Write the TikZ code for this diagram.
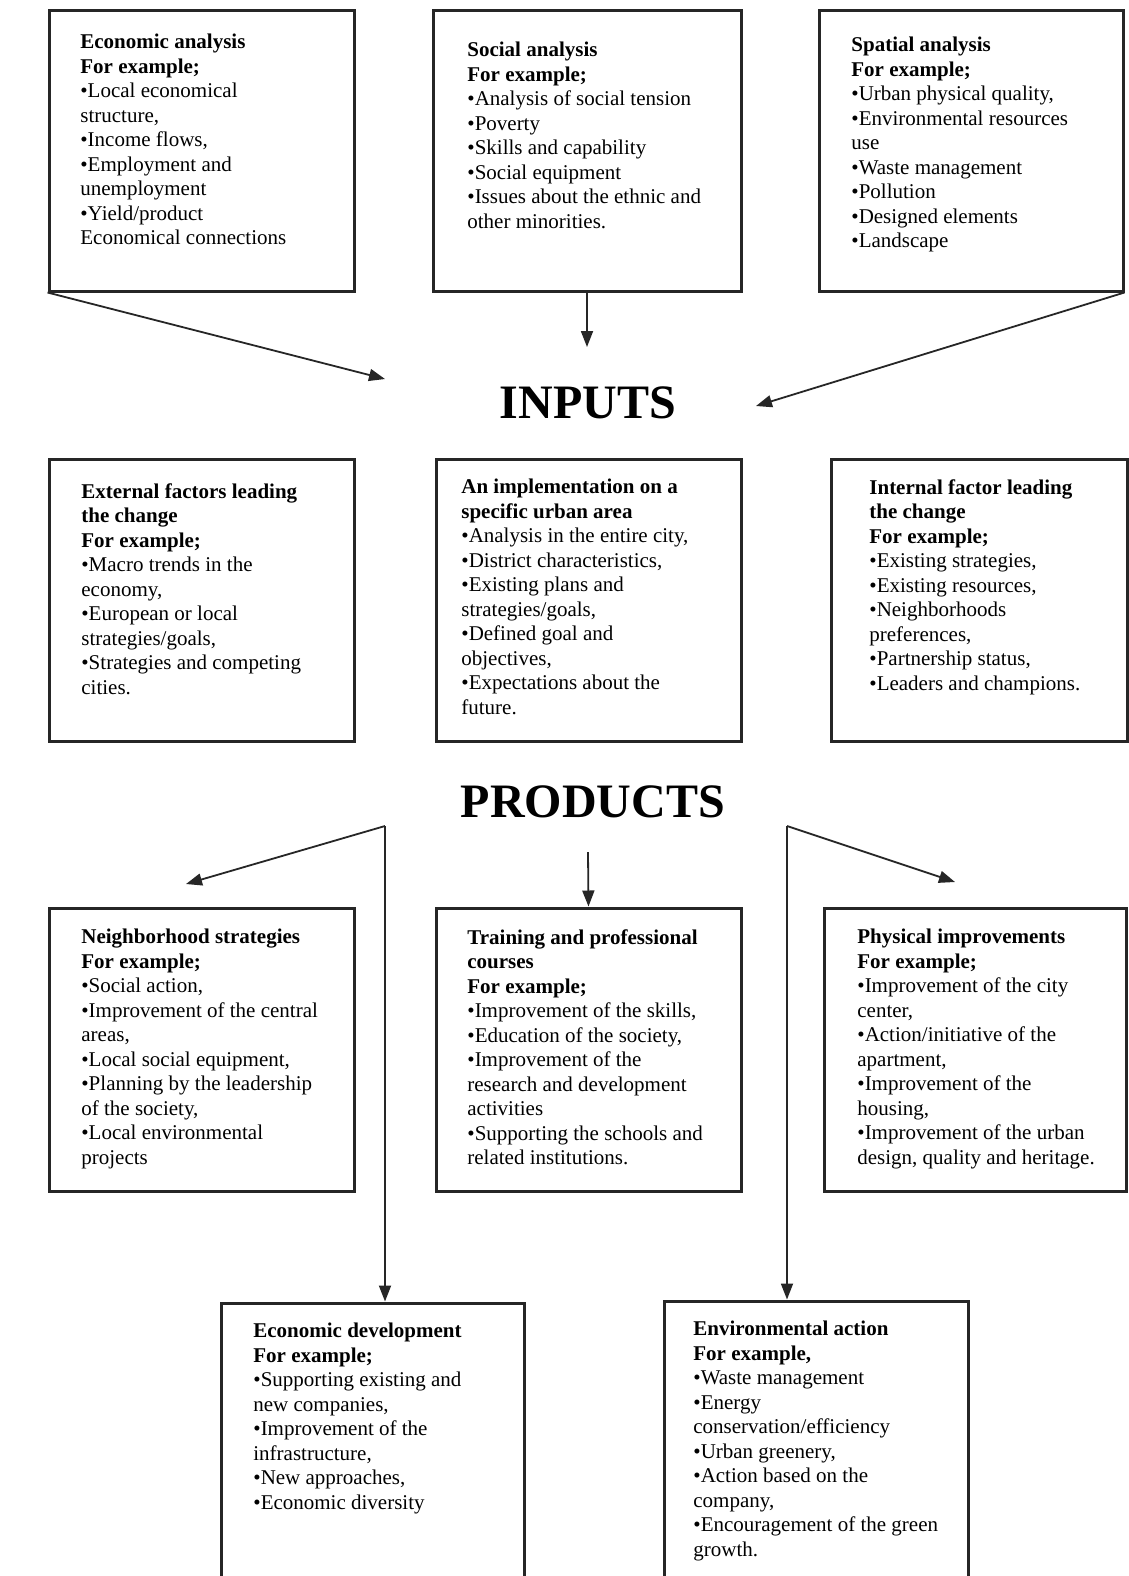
\documentclass[tikz,border=0pt]{standalone}
\usepackage{fontspec}
\setmainfont{Liberation Serif}
\usetikzlibrary{arrows.meta,positioning,fit}

\begin{document}
\begin{tikzpicture}[
  x=0.5pt, y=-0.5pt,
  box/.style={draw=black!85, line width=1.5pt, inner sep=0pt},
  txt/.style={anchor=north west, align=left, inner sep=0pt, font=\fontsize{10.5}{12.25}\selectfont},
  ttl/.style={font=\fontsize{24}{28}\selectfont\bfseries},
  arr/.style={-{Triangle[length=8pt, width=6pt]}, line width=0.9pt, draw=black!85}
  ]
  \useasboundingbox (0,0) rectangle (1129,1576);
  \clip (0,0) rectangle (1129,1576);

  % analysis boxes
  \node[box, fit={(49,10) (354,291)}] (eco) {};
  \node[box, fit={(433,10) (741,291)}] (soc) {};
  \node[box, fit={(819,10) (1123,291)}] (spa) {};

  \node[txt] (ecotxt) at (80,34) {\textbf{Economic analysis}\\\textbf{For example;}\\
    •Local economical\\structure,\\•Income flows,\\•Employment and\\unemployment\\
    •Yield/product\\Economical connections};
  \node[txt] (soctxt) at (467,42) {\textbf{Social analysis}\\\textbf{For example;}\\
    •Analysis of social tension\\•Poverty\\•Skills and capability\\•Social equipment\\
    •Issues about the ethnic and\\other minorities.};
  \node[txt] (spatxt) at (851,37) {\textbf{Spatial analysis}\\\textbf{For example;}\\
    •Urban physical quality,\\•Environmental resources\\use\\•Waste management\\
    •Pollution\\•Designed elements\\•Landscape};

  \node[ttl] (inputs) at (588,403) {INPUTS};
  \coordinate (inL) at (385,379);
  \coordinate (inM) at (587,347);
  \coordinate (inR) at (756,406);
  \draw[arr] (eco.south west) -- (inL);
  \draw[arr] (soc.south) -- (inM);
  \draw[arr] (spa.south east) -- (inR);

  % factor boxes
  \node[box, fit={(49,459) (354,741)}] (ext) {};
  \node[box, fit={(436,459) (741,741)}] (imp) {};
  \node[box, fit={(831,459) (1127,741)}] (int) {};

  \node[txt] (exttxt) at (81,483) {\textbf{External factors leading}\\\textbf{the change}\\
    \textbf{For example;}\\•Macro trends in the\\economy,\\•European or local\\
    strategies/goals,\\•Strategies and competing\\cities.};
  \node[txt] (imptxt) at (461,479) {\textbf{An implementation on a}\\\textbf{specific urban area}\\
    •Analysis in the entire city,\\•District characteristics,\\•Existing plans and\\
    strategies/goals,\\•Defined goal and\\objectives,\\•Expectations about the\\future.};
  \node[txt] (inttxt) at (869,479) {\textbf{Internal factor leading}\\\textbf{the change}\\
    \textbf{For example;}\\•Existing strategies,\\•Existing resources,\\•Neighborhoods\\
    preferences,\\•Partnership status,\\•Leaders and champions.};

  \node[ttl] (products) at (593,802) {PRODUCTS};

  % product boxes
  \node[box, fit={(49,908) (354,1191)}] (nbh) {};
  \node[box, fit={(436,908) (741,1191)}] (trn) {};
  \node[box, fit={(824,908) (1126,1191)}] (phy) {};
  \node[box, fit={(221,1303) (524,1620)}] (dev) {};
  \node[box, fit={(664,1301) (968,1620)}] (env) {};

  \node[txt] (nbhtxt) at (81,929) {\textbf{Neighborhood strategies}\\\textbf{For example;}\\
    •Social action,\\•Improvement of the central\\areas,\\•Local social equipment,\\
    •Planning by the leadership\\of the society,\\•Local environmental\\projects};
  \node[txt] (trntxt) at (467,929) {\textbf{Training and professional}\\\textbf{courses}\\
    \textbf{For example;}\\•Improvement of the skills,\\•Education of the society,\\
    •Improvement of the\\research and development\\activities\\
    •Supporting the schools and\\related institutions.};
  \node[txt] (phytxt) at (857,929) {\textbf{Physical improvements}\\\textbf{For example;}\\
    •Improvement of the city\\center,\\•Action/initiative of the\\apartment,\\
    •Improvement of the\\housing,\\•Improvement of the urban\\design, quality and heritage.};
  \node[txt] (devtxt) at (253,1323) {\textbf{Economic development}\\\textbf{For example;}\\
    •Supporting existing and\\new companies,\\•Improvement of the\\infrastructure,\\
    •New approaches,\\•Economic diversity};
  \node[txt] (envtxt) at (693,1321) {\textbf{Environmental action}\\\textbf{For example,}\\
    •Waste management\\•Energy\\conservation/efficiency\\•Urban greenery,\\
    •Action based on the\\company,\\•Encouragement of the green\\growth.};

  % product branches
  \coordinate (pL) at (385,826);
  \coordinate (pM) at (588,852);
  \coordinate (pR) at (787,826);
  \coordinate (nbhA) at (186,884);
  \coordinate (phyA) at (955,882);
  \draw[arr] (pL) -- (nbhA);
  \draw[arr] (pL) -- (pL |- dev.north);
  \draw[arr] (pM) -- (trn.north);
  \draw[arr] (pR) -- (phyA);
  \draw[arr] (pR) -- (pR |- env.north);
\end{tikzpicture}
\end{document}
